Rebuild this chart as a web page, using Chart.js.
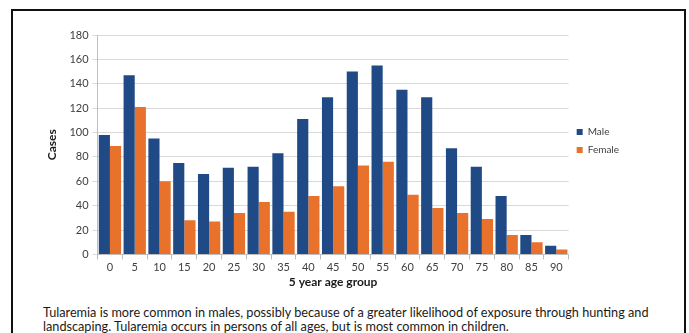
<!DOCTYPE html>
<html>
<head>
<meta charset="utf-8">
<script src="https://cdn.jsdelivr.net/npm/chart.js@4"></script>
<style>
  html, body { margin: 0; padding: 0; background: #fff; }
  body { width: 689px; height: 333px; position: relative; overflow: hidden; }
  #frame {
    position: absolute; left: 11px; top: 9px; width: 675px; height: 340px;
    border: 2.5px solid #111; box-sizing: border-box;
  }
  #wrap { position: absolute; left: 0; top: 0; width: 689px; height: 291px; }
  #caption {
    position: absolute; left: 43px; top: 305px; width: 640px;
    font-family: Lato, "Liberation Sans", sans-serif; font-size: 12.7px;
    line-height: 14px; color: #1a1a1a;
  }
</style>
</head>
<body>
<div id="frame"></div>
<div id="wrap"><canvas id="c"></canvas></div>
<div id="caption">Tularemia is more common in males, possibly because of a greater likelihood of exposure through hunting and landscaping. Tularemia occurs in persons of all ages, but is most common in children.</div>
<script>
// Five-year age groups and case counts by sex
const ageGroups = ['0','5','10','15','20','25','30','35','40','45','50','55','60','65','70','75','80','85','90'];
const maleCases = [98,147,95,75,66,71,72,83,111,129,150,155,135,129,87,72,48,16,7];
const femaleCases = [89,121,60,28,27,34,43,35,48,56,73,76,49,38,34,29,16,10,4];
const yTicks = [0,20,40,60,80,100,120,140,160,180];

const tickFont = { family: 'Lato, "Liberation Sans", sans-serif', size: 11 };
const boldFont = { family: 'Lato, "Liberation Sans", sans-serif', size: 12, weight: 'bold' };

new Chart(document.getElementById('c'), {
  type: 'bar',
  data: {
    labels: ageGroups,
    datasets: [
      { label: 'Male', data: maleCases, backgroundColor: '#1F4A86' },
      { label: 'Female', data: femaleCases, backgroundColor: '#E8722C' }
    ]
  },
  options: {
    responsive: true,
    maintainAspectRatio: false,
    animation: false,
    layout: { padding: { left: 45, top: 35, right: 60, bottom: 2 } },
    datasets: { bar: { categoryPercentage: 0.9, barPercentage: 1.0 } },
    plugins: {
      legend: {
        position: 'right',
        align: 'start',
        title: { display: true, text: '', padding: 36, font: { size: 10 } },
        labels: {
          boxWidth: 6, boxHeight: 6, padding: 8,
          color: '#404040',
          font: { family: 'Lato, "Liberation Sans", sans-serif', size: 10 }
        }
      },
      tooltip: { enabled: false }
    },
    scales: {
      x: {
        grid: { drawOnChartArea: false, drawTicks: true, tickLength: 5, color: '#BFBFBF', offset: true },
        border: { color: '#BFBFBF' },
        ticks: { color: '#404040', font: tickFont, padding: 1, maxRotation: 0 },
        title: { display: true, text: '5 year age group', color: '#1a1a1a', font: boldFont, padding: { top: 0, bottom: 0 } }
      },
      y: {
        min: 0, max: 180,
        afterBuildTicks: s => { s.ticks = yTicks.map(v => ({ value: v })); },
        grid: { color: '#D9D9D9', tickLength: 5, drawTicks: true },
        border: { color: '#BFBFBF' },
        ticks: { color: '#404040', font: tickFont, padding: 4 },
        title: { display: true, text: 'Cases', color: '#1a1a1a', font: boldFont, padding: { top: 0, bottom: 6 } }
      }
    }
  }
});
</script>
</body>
</html>
